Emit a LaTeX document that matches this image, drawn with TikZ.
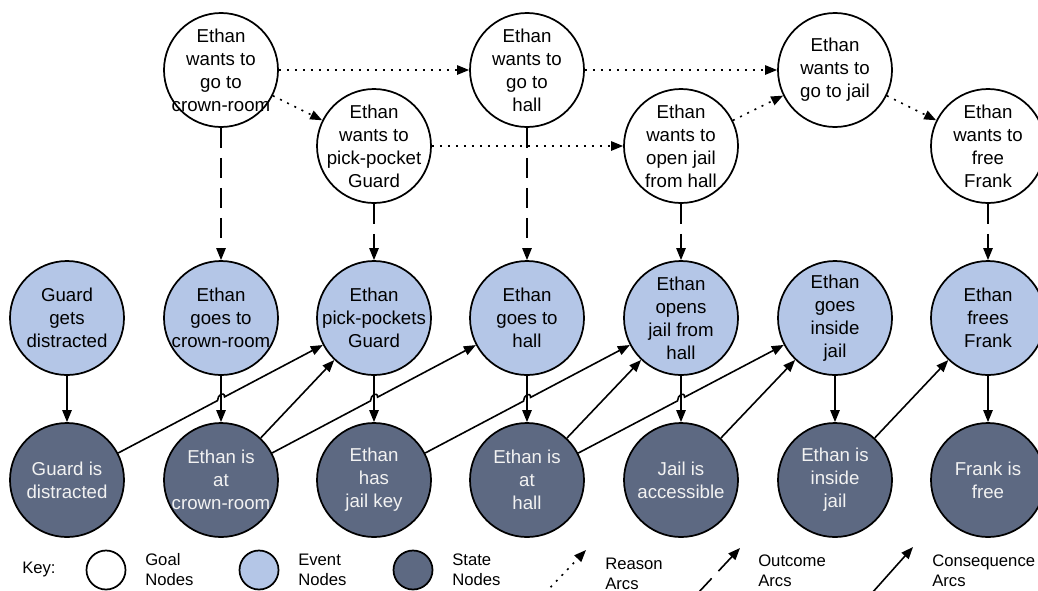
\documentclass[tikz,border=0pt]{standalone}
\usepackage{fontspec}
\setmainfont{Liberation Sans}
\usetikzlibrary{arrows.meta,calc}
\definecolor{eventfill}{RGB}{180,198,231}
\definecolor{statefill}{RGB}{93,105,130}
\definecolor{statetext}{RGB}{242,242,242}
\tikzset{
  basecirc/.style={circle, draw=black, line width=1.3pt, minimum size=85.5pt, inner sep=0pt},
  goal/.style={basecirc, fill=white},
  event/.style={basecirc, fill=eventfill},
  state/.style={basecirc, fill=statefill},
  lbl/.style={align=center, font=\fontsize{14}{17.25}\selectfont, inner sep=0pt},
  goaltext/.style={lbl, text=black},
  eventtext/.style={lbl, text=black},
  statetext/.style={lbl, text=statetext},
  keycirc/.style={circle, draw=black, line width=1.3pt, minimum size=29.25pt, inner sep=0pt},
  keytext/.style={align=left, anchor=west, inner sep=0pt, font=\fontsize{12.5}{15}\selectfont},
  arcbase/.style={line width=1.2pt, -{Triangle[length=9pt,width=7pt]}},
  reasonarc/.style={arcbase, dash pattern=on 1.5pt off 4.5pt},
  outcomearc/.style={arcbase, dash pattern=on 15pt off 7.5pt},
  consarc/.style={arcbase},
}
\newcommand\cnode[4]{\node[#1] (#2) at #3 {}; \node[#1text] (#2t) at (#2) {#4};}
\newcommand\hopline[5]{%
  \coordinate (#5) at (intersection of #1.center--#2.center and #3.center--#4.center);
  \coordinate (#5a) at ($(#5)!3pt!(#1.center)$);
  \coordinate (#5b) at ($(#5)!3pt!(#2.center)$);
  \draw[consarc] (#1) -- (#5a) .. controls +(0,-6) and +(0,-6) .. (#5b) -- (#2);
}
\begin{document}
\begin{tikzpicture}[x=0.75pt, y=-0.75pt]
\useasboundingbox (0,0) rectangle (1038,590);
\clip (0,0) rectangle (1038,590);

% goal nodes
\cnode{goal}{G1}{(221,70)}{Ethan\\wants to\\go to\\crown-room}
\cnode{goal}{G2}{(374,146)}{Ethan\\wants to\\pick-pocket\\Guard}
\cnode{goal}{G3}{(527,70)}{Ethan\\wants to\\go to\\hall}
\cnode{goal}{G4}{(681,146)}{Ethan\\wants to\\open jail\\from hall}
\cnode{goal}{G5}{(835,70)}{Ethan\\wants to\\go to jail}
\cnode{goal}{G6}{(988,146)}{Ethan\\wants to\\free\\Frank}

% event nodes
\cnode{event}{E1}{(67,318)}{Guard\\gets\\distracted}
\cnode{event}{E2}{(221,318)}{Ethan\\goes to\\crown-room}
\cnode{event}{E3}{(374,318)}{Ethan\\pick-pockets\\Guard}
\cnode{event}{E4}{(527,318)}{Ethan\\goes to\\hall}
\cnode{event}{E5}{(681,318)}{Ethan\\opens\\jail from\\hall}
\cnode{event}{E6}{(835,318)}{Ethan\\goes\\inside\\jail}
\cnode{event}{E7}{(988,318)}{Ethan\\frees\\Frank}

% state nodes
\cnode{state}{S1}{(67,480)}{Guard is\\distracted}
\cnode{state}{S2}{(221,480)}{Ethan is\\at\\crown-room}
\cnode{state}{S3}{(374,480)}{Ethan\\has\\jail key}
\cnode{state}{S4}{(527,480)}{Ethan is\\at\\hall}
\cnode{state}{S5}{(681,480)}{Jail is\\accessible}
\cnode{state}{S6}{(835,480)}{Ethan is\\inside\\jail}
\cnode{state}{S7}{(988,480)}{Frank is\\free}

% reason arcs
\draw[reasonarc] (G1) -- (G3);
\draw[reasonarc] (G1) -- (G2);
\draw[reasonarc] (G2) -- (G4);
\draw[reasonarc] (G3) -- (G5);
\draw[reasonarc] (G4) -- (G5);
\draw[reasonarc] (G5) -- (G6);

% outcome arcs
\draw[outcomearc] (G1) -- (E2);
\draw[outcomearc] (G2) -- (E3);
\draw[outcomearc] (G3) -- (E4);
\draw[outcomearc] (G4) -- (E5);
\draw[outcomearc] (G6) -- (E7);

% consequence arcs (vertical)
\draw[consarc] (E1) -- (S1);
\draw[consarc] (E2) -- (S2);
\draw[consarc] (E3) -- (S3);
\draw[consarc] (E4) -- (S4);
\draw[consarc] (E5) -- (S5);
\draw[consarc] (E6) -- (S6);
\draw[consarc] (E7) -- (S7);

% consequence arcs (diagonal)
\hopline{S1}{E3}{E2}{S2}{J1}
\draw[consarc] (S2) -- (E3);
\hopline{S2}{E4}{E3}{S3}{J2}
\hopline{S3}{E5}{E4}{S4}{J3}
\draw[consarc] (S4) -- (E5);
\hopline{S4}{E6}{E5}{S5}{J4}
\draw[consarc] (S5) -- (E6);
\draw[consarc] (S6) -- (E7);

% key
\node[inner sep=0pt, font=\fontsize{12.5}{15}\selectfont, anchor=west] (keylbl) at (22,569) {Key:};
\node[keycirc, fill=white] (kg) at (106,570) {};
\node[keytext] (kgt) at (145,570) {Goal\\Nodes};
\node[keycirc, fill=eventfill] (ke) at (259,570) {};
\node[keytext] (ket) at (298,570) {Event\\Nodes};
\node[keycirc, fill=statefill] (ks) at (413,570) {};
\node[keytext] (kst) at (452,570) {State\\Nodes};

\coordinate (ra) at (545,593);
\coordinate (rb) at (586,550);
\draw[reasonarc] (ra) -- (rb);
\node[keytext] (rt) at (605,574) {Reason\\Arcs};

\coordinate (oa) at (698,593);
\coordinate (ob) at (740,548);
\draw[outcomearc] (oa) -- (ob);
\node[keytext] (ot) at (758,571) {Outcome\\Arcs};

\coordinate (ca) at (872,593);
\coordinate (cb) at (913,547);
\draw[consarc] (ca) -- (cb);
\node[keytext] (ct) at (932,571) {Consequence\\Arcs};
\end{tikzpicture}
\end{document}
